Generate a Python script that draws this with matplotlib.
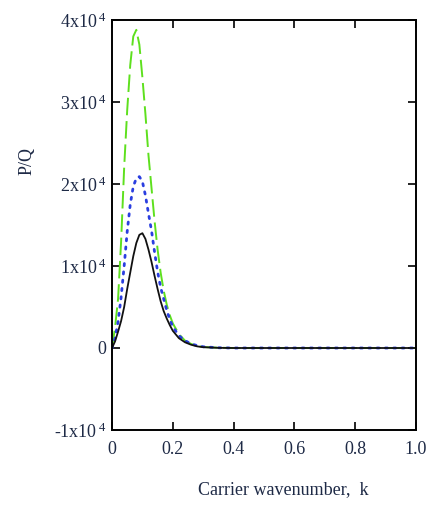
import numpy as np
import matplotlib.pyplot as plt
from matplotlib.ticker import FixedLocator

# wavenumber grid
k = [0.0, 0.01, 0.02, 0.03, 0.04, 0.05, 0.06, 0.07, 0.08, 0.09, 0.10,
     0.11, 0.12, 0.13, 0.14, 0.15, 0.16, 0.17, 0.18, 0.19, 0.20,
     0.22, 0.24, 0.26, 0.28, 0.30, 0.35, 0.40, 0.50, 0.60, 0.70,
     0.80, 0.90, 1.00]

# P/Q in units of 1e4
pq_solid = [0.0, 0.08, 0.20, 0.33, 0.50, 0.72, 0.92, 1.12, 1.28, 1.38, 1.40,
            1.33, 1.20, 1.05, 0.88, 0.72, 0.57, 0.45, 0.36, 0.28, 0.21,
            0.12, 0.07, 0.04, 0.02, 0.01, 0.002, 0.0, 0.0, 0.0, 0.0,
            0.0, 0.0, 0.0]
pq_dotted = [0.0, 0.12, 0.32, 0.62, 1.00, 1.42, 1.75, 1.97, 2.07, 2.09, 2.03,
             1.86, 1.64, 1.43, 1.17, 0.93, 0.74, 0.60, 0.46, 0.35, 0.26,
             0.15, 0.09, 0.05, 0.03, 0.015, 0.003, 0.0, 0.0, 0.0, 0.0,
             0.0, 0.0, 0.0]
pq_dashed = [0.0, 0.25, 0.60, 1.30, 2.20, 2.90, 3.45, 3.80, 3.88, 3.70, 3.30,
             2.85, 2.35, 1.95, 1.55, 1.20, 0.92, 0.70, 0.53, 0.40, 0.30,
             0.17, 0.09, 0.05, 0.025, 0.012, 0.003, 0.0, 0.0, 0.0, 0.0,
             0.0, 0.0, 0.0]

xticks = [0, 0.2, 0.4, 0.6, 0.8, 1.0]
xlabels = ['0', '0.2', '0.4', '0.6', '0.8', '1.0']
yticks = [-1e4, 0, 1e4, 2e4, 3e4, 4e4]
ylabels = ['-1x10$^{\\,4}$', '0', '1x10$^{\\,4}$',
           '2x10$^{\\,4}$', '3x10$^{\\,4}$', '4x10$^{\\,4}$']

plt.rcParams['font.family'] = ['Liberation Serif', 'DejaVu Serif']
plt.rcParams['mathtext.fontset'] = 'custom'
plt.rcParams['mathtext.rm'] = 'Liberation Serif'
plt.rcParams['mathtext.default'] = 'rm'
plt.rcParams['axes.unicode_minus'] = False

txt = '#1e2a46'

fig = plt.figure(figsize=(4.36, 5.12), dpi=100)
ax = fig.add_axes([112 / 436, 1 - 430 / 512, 304 / 436, 410 / 512])

kk = np.array(k)
ax.plot(kk, np.array(pq_dashed) * 1e4, color='#5ee01e', lw=1.4, ls=(0, (9, 3)))
ax.plot(kk, np.array(pq_dotted) * 1e4, color='#2a3ee0', lw=2.0, ls=(0, (0.8, 2.2)),
        dash_capstyle='round')
ax.plot(kk, np.array(pq_solid) * 1e4, color='#111111', lw=1.3)

ax.set_xlim(0, 1.0)
ax.set_ylim(-1e4, 4e4)
ax.xaxis.set_major_locator(FixedLocator(xticks))
ax.set_xticklabels(xlabels)
ax.yaxis.set_major_locator(FixedLocator(yticks))
ax.set_yticklabels(ylabels)
ax.tick_params(direction='in', length=6, width=1.2, top=True, right=True,
               labelsize=13, labelcolor=txt)
ax.tick_params(axis='y', pad=4)
ax.tick_params(axis='x', pad=8)
for s in ax.spines.values():
    s.set_linewidth(1.4)

fig.text(27 / 436, 1 - 161 / 512, 'P/Q', rotation=90, ha='center', va='center',
         fontsize=13, color=txt)
fig.text(283 / 436, 1 - 490 / 512, 'Carrier wavenumber,  k', ha='center', va='center',
         fontsize=13, color=txt)

fig.savefig('out.png', dpi=100)
